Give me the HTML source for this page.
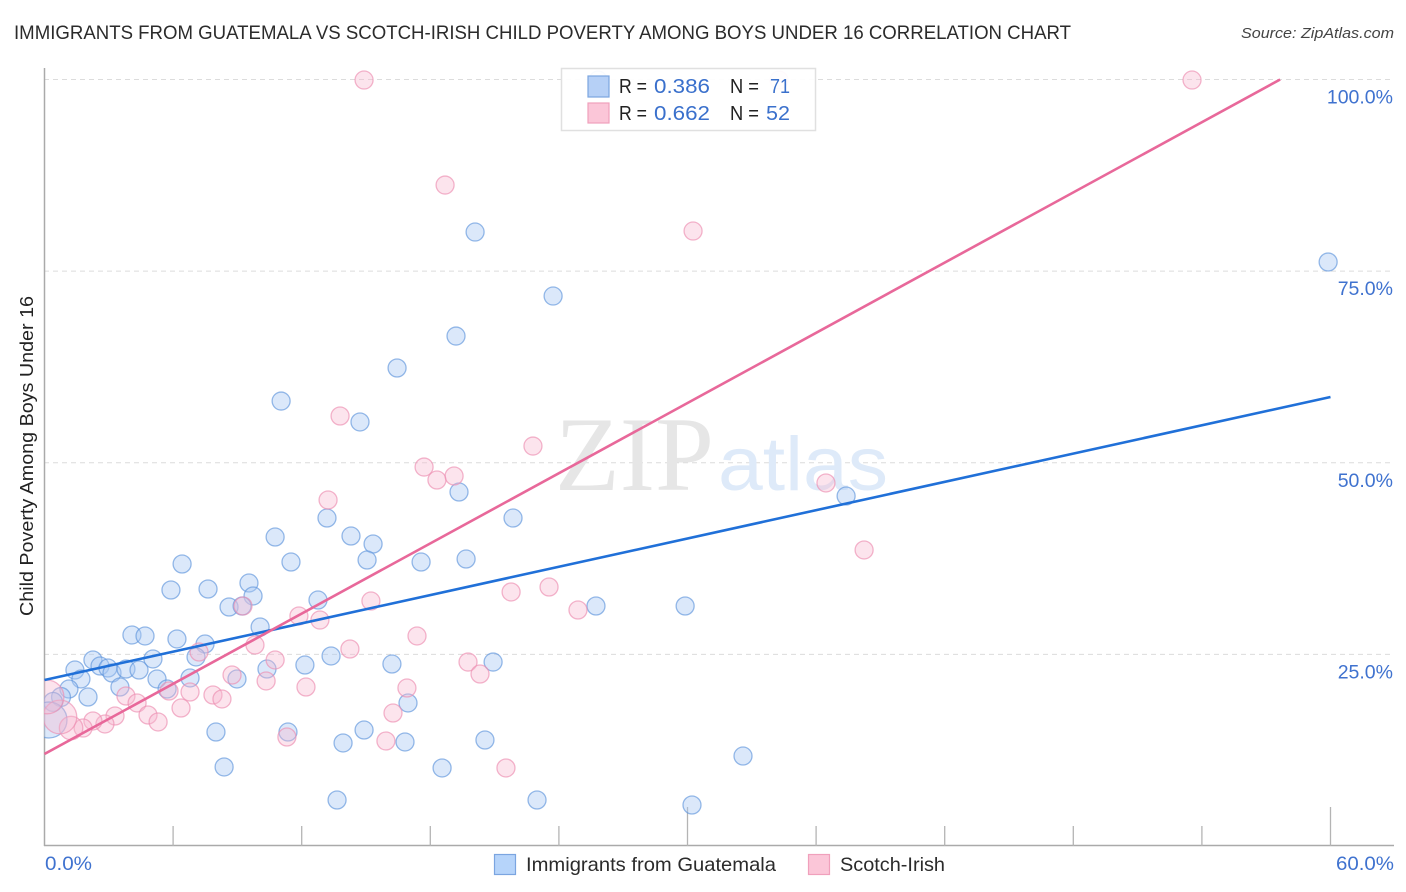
<!DOCTYPE html>
<html lang="en">
<head>
<meta charset="utf-8">
<title>Immigrants from Guatemala vs Scotch-Irish Child Poverty Correlation Chart</title>
<style>
html,body{margin:0;padding:0;background:#fff;}
body{width:1406px;height:892px;overflow:hidden;}
svg{display:block;font-family:"Liberation Sans",sans-serif;}
</style>
</head>
<body>
<svg id="chart" xmlns="http://www.w3.org/2000/svg" width="1406" height="892" viewBox="0 0 1406 892">
  <defs><clipPath id="plot-clip"><rect x="44" y="68" width="1350" height="778"/></clipPath></defs>
  <rect width="1406" height="892" fill="#fff"/>
  <text x="14" y="39" font-size="19.5" fill="#2b2b2b" textLength="1057" lengthAdjust="spacingAndGlyphs">IMMIGRANTS FROM GUATEMALA VS SCOTCH-IRISH CHILD POVERTY AMONG BOYS UNDER 16 CORRELATION CHART</text>
  <text x="1241" y="38" font-size="15" font-style="italic" fill="#444" textLength="153" lengthAdjust="spacingAndGlyphs">Source: ZipAtlas.com</text>
  <text transform="translate(33,456) rotate(-90)" font-size="18.5" fill="#222" text-anchor="middle" textLength="320" lengthAdjust="spacingAndGlyphs">Child Poverty Among Boys Under 16</text>
  <g id="grid-layer"></g>
  <g>
    <text x="555" y="490" font-family="'Liberation Serif',serif" font-size="106" fill="#e6e6e6" textLength="159" lengthAdjust="spacingAndGlyphs">ZIP</text>
    <text x="718" y="490" font-size="76" fill="#deeaf9" textLength="170" lengthAdjust="spacingAndGlyphs">atlas</text>
  </g>
  <g id="axis-layer"></g>
  <g id="marks-layer" clip-path="url(#plot-clip)"></g>

  <g>
    <rect x="561.5" y="68.5" width="254" height="62" fill="#fff" fill-opacity="0.93" stroke="#e0e0e0" stroke-width="1.5"/>
    <rect x="588" y="76" width="21" height="21" fill="#b6d0f6" stroke="#7ba5e0" stroke-width="1.2"/>
    <rect x="588" y="103" width="21" height="20" fill="#fbc6d8" stroke="#f0a0bc" stroke-width="1.2"/>
    <text x="619" y="93" font-size="20" fill="#222" textLength="28" lengthAdjust="spacingAndGlyphs">R =</text>
    <text x="654" y="93" font-size="20" fill="#3a70cc" textLength="56" lengthAdjust="spacingAndGlyphs">0.386</text>
    <text x="730" y="93" font-size="20" fill="#222" textLength="29" lengthAdjust="spacingAndGlyphs">N =</text>
    <text x="770" y="93" font-size="20" fill="#3a70cc" textLength="20" lengthAdjust="spacingAndGlyphs">71</text>
    <text x="619" y="120" font-size="20" fill="#222" textLength="28" lengthAdjust="spacingAndGlyphs">R =</text>
    <text x="654" y="120" font-size="20" fill="#3a70cc" textLength="56" lengthAdjust="spacingAndGlyphs">0.662</text>
    <text x="730" y="120" font-size="20" fill="#222" textLength="29" lengthAdjust="spacingAndGlyphs">N =</text>
    <text x="766" y="120" font-size="20" fill="#3a70cc" textLength="24" lengthAdjust="spacingAndGlyphs">52</text>
  </g>

  <g>
    <rect x="494.5" y="854.5" width="21" height="20" fill="#b6d4fa" stroke="#7ba5e0" stroke-width="1.2"/>
    <text x="526" y="871" font-size="19.5" fill="#2b2b2b" textLength="250" lengthAdjust="spacingAndGlyphs">Immigrants from Guatemala</text>
    <rect x="808.5" y="854.5" width="21" height="20" fill="#fbc6d8" stroke="#f0a0bc" stroke-width="1.2"/>
    <text x="840" y="871" font-size="19.5" fill="#2b2b2b" textLength="105" lengthAdjust="spacingAndGlyphs">Scotch-Irish</text>
  </g>
</svg>
<script>
// Tick values and labels
const xTickValues = [0, 6, 12, 18, 24, 30, 36, 42, 48, 54, 60];
const xMajorTicks = [30, 60];
const xEndLabels = ["0.0%", "60.0%"];
const yGridValues = [25, 50, 75, 100];
const yTickLabels = ["25.0%", "50.0%", "75.0%", "100.0%"];

// Immigrants from Guatemala (percent x, percent y, bubble weight)
const guatemalaX = [59.89,20.09,23.73,19.20,16.45,11.04,14.72,19.34,37.40,13.18,21.86,14.30,10.76,15.33,15.05,11.50,6.42,19.67,17.57,5.90,7.63,9.54,9.73,8.61,9.22,12.76,25.73,29.89,10.06,4.08,4.69,6.18,7.49,7.07,5.06,2.26,2.59,2.96,1.42,1.70,3.15,3.80,4.41,5.25,3.52,5.72,6.79,8.98,10.38,12.15,13.37,16.21,20.93,1.14,0.77,2.03,0.40,16.96,11.36,8.00,14.91,13.93,16.82,20.55,8.38,18.55,32.59,13.65,22.98,30.21,0.21,25.83];
const guatemalaY = [76.19,80.10,71.75,66.53,62.36,58.05,55.32,46.18,45.66,42.79,42.79,40.44,40.31,39.40,37.31,37.05,36.79,37.44,37.05,33.40,33.53,34.31,32.62,31.18,31.31,32.09,31.31,31.31,28.57,27.53,27.40,27.01,26.35,24.66,24.40,24.27,23.48,23.22,22.96,21.79,22.57,23.09,22.96,21.79,20.74,20.48,21.92,21.79,23.09,23.61,24.79,23.74,24.00,20.48,19.44,19.44,18.79,18.66,14.87,14.87,15.13,13.44,13.57,13.83,10.31,10.18,11.74,6.00,6.00,5.35,16.44,99.93];
const guatemalaWeight = [1,1,1,1,1,1,1,1,1,1,1,1,1,1,1,1,1,1,1,1,1,1,1,1,1,1,1,1,1,1,1,1,1,1,1,1,1,1,1,1,1,1,1,1,1,1,1,1,1,1,1,1,1,1,1.1,1,1.1,1,1,1,1,1,1,1,1,1,1,1,1,1,4,1];

// Scotch-Irish (percent x, percent y, bubble weight)
const scotchIrishX = [14.91,53.54,18.69,30.26,13.79,22.79,17.71,18.31,19.11,13.23,36.46,38.24,21.77,23.54,15.23,24.89,9.26,11.87,12.85,17.38,14.25,9.82,10.76,19.76,20.32,8.75,10.34,12.20,16.91,5.81,6.79,7.86,8.28,6.37,3.80,4.32,4.83,5.30,3.29,2.82,2.26,1.80,1.24,0.72,0.12,16.26,15.93,11.31,21.53,7.21,34.27];
const scotchIrishY = [99.93,99.93,86.23,80.23,56.10,52.18,49.44,47.75,48.27,45.14,47.36,38.62,33.14,33.79,31.96,30.79,31.31,30.01,29.48,27.40,25.70,26.22,24.27,24.00,22.44,22.31,21.53,20.74,20.61,20.22,20.09,19.70,19.18,18.00,19.57,18.66,17.09,16.18,16.96,15.92,16.31,15.39,15.39,16.83,19.44,17.35,13.70,14.22,10.18,25.31,99.93];
const scotchIrishWeight = [1,1,1,1,1,1,1,1,1,1,1,1,1,1,1,1,1,1,1,1,1,1,1,1,1,1,1,1,1,1,1,1,1,1,1,1,1,1,1,1,1,1,1.7,3.5,3.5,1,1,1,1,1,1];

// Trend line end points (percent)
const guatemalaTrendX = [0, 60];
const guatemalaTrendY = [21.66, 58.58];
const scotchIrishTrendX = [0, 57.65];
const scotchIrishTrendY = [12.0, 100];

const SVG_NS = "http://www.w3.org/2000/svg";
const xScale = v => 44.5 + v * (1286 / 60);
const yScale = v => 846 - v * (766.5 / 100);
const radiusScale = w => 9 * Math.sqrt(w);

function make(tag, attrs, parent) {
  const el = document.createElementNS(SVG_NS, tag);
  for (const k in attrs) el.setAttribute(k, attrs[k]);
  parent.appendChild(el);
  return el;
}

const gridLayer = document.getElementById("grid-layer");
const axisLayer = document.getElementById("axis-layer");
const marksLayer = document.getElementById("marks-layer");

yGridValues.forEach((v, i) => {
  const line = make("line", {x1: 44, x2: 1394, y1: yScale(v), y2: yScale(v), stroke: "#dcdcdc", "stroke-width": 1, "stroke-dasharray": "5 4"}, gridLayer);
  
  
  const label = make("text", {x: 1393, y: yScale(v) + 24, "font-size": 19.5, fill: "#3f72cf", "text-anchor": "end"}, axisLayer);
  label.textContent = yTickLabels[i];
  
  
});

const yAxis = make("line", {x1: 44.5, x2: 44.5, y1: 68, y2: 846, stroke: "#aaaaaa", "stroke-width": 1.5}, axisLayer);


const xAxis = make("line", {x1: 44, x2: 1394, y1: 845.5, y2: 845.5, stroke: "#aaaaaa", "stroke-width": 1.5}, axisLayer);



xTickValues.forEach(v => {
  if (v === 0) return;
  const top = xMajorTicks.includes(v) ? 807 : 826;
  const tick = make("line", {x1: xScale(v), x2: xScale(v), y1: top, y2: 846, stroke: "#b4b4b4", "stroke-width": 1.3}, axisLayer);
  
  
});

const xLabelLeft = make("text", {x: 45, y: 870, "font-size": 19.5, fill: "#3f72cf", textLength: 47, lengthAdjust: "spacingAndGlyphs"}, axisLayer);
xLabelLeft.textContent = xEndLabels[0];


const xLabelRight = make("text", {x: 1336, y: 870, "font-size": 19.5, fill: "#3f72cf", textLength: 58, lengthAdjust: "spacingAndGlyphs"}, axisLayer);
xLabelRight.textContent = xEndLabels[1];



guatemalaX.forEach((x, i) => {
  const dot = make("circle", {cx: xScale(x), cy: yScale(guatemalaY[i]), r: radiusScale(guatemalaWeight[i]), fill: "#a9c9f3", "fill-opacity": 0.42, stroke: "#5f95dc", "stroke-opacity": 0.65, "stroke-width": 1.3}, marksLayer);
  
  
});

scotchIrishX.forEach((x, i) => {
  const dot = make("circle", {cx: xScale(x), cy: yScale(scotchIrishY[i]), r: radiusScale(scotchIrishWeight[i]), fill: "#f8b9cf", "fill-opacity": 0.38, stroke: "#ec8eb0", "stroke-opacity": 0.65, "stroke-width": 1.3}, marksLayer);
  
  
});

const guatemalaLine = make("line", {x1: xScale(guatemalaTrendX[0]), y1: yScale(guatemalaTrendY[0]), x2: xScale(guatemalaTrendX[1]), y2: yScale(guatemalaTrendY[1]), stroke: "#2070d8", "stroke-width": 2.6}, marksLayer);


const scotchIrishLine = make("line", {x1: xScale(scotchIrishTrendX[0]), y1: yScale(scotchIrishTrendY[0]), x2: xScale(scotchIrishTrendX[1]), y2: yScale(scotchIrishTrendY[1]), stroke: "#e8689a", "stroke-width": 2.6}, marksLayer);


</script>
</body>
</html>
